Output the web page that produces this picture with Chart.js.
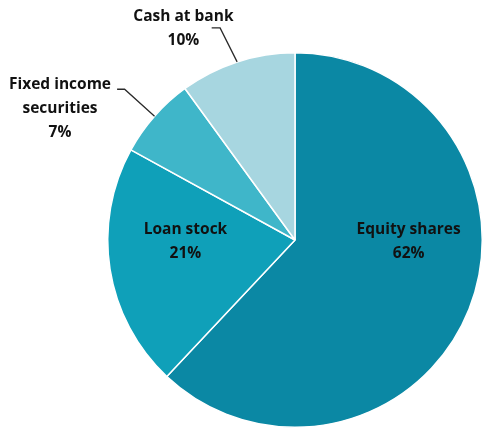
<!DOCTYPE html>
<html>
<head>
<meta charset="utf-8">
<script src="https://cdn.jsdelivr.net/npm/chart.js@4.4.0/dist/chart.umd.min.js"></script>
<style>
  html, body { margin: 0; padding: 0; background: #fff; }
  #wrap { width: 483px; height: 429px; position: relative; }
</style>
</head>
<body>
<div id="wrap"><canvas id="pie"></canvas></div>
<script>
// --- DATA ---
const categories = ['Equity shares', 'Loan stock', 'Fixed income securities', 'Cash at bank'];
const shares = [62, 21, 7, 10];
const sliceColors = ['#0b88a4', '#0fa0b9', '#3fb6c9', '#a7d6e0'];

// label text lines, as shown on the picture
const labelLines = [
    ['Equity shares'],
    ['Loan stock'],
    ['Fixed income', 'securities'],
    ['Cash at bank']
];

// --- LABEL PLACEMENT (fractions of radius, relative to pie centre) ---
const labelPos = [
    { fx: 0.607, fy: 0.01 },
    { fx: -0.585, fy: 0.01 },
    { fx: -1.255, fy: -0.70, leader: true, elbow: { fx: -0.91, fy: -0.805 }, tip: { fx: -0.95, fy: -0.805 } },
    { fx: -0.596, fy: -1.13, leader: true, elbow: { fx: -0.40, fy: -1.133 }, tip: { fx: -0.445, fy: -1.133 } }
];

const labelPlugin = {
    id: 'sliceLabels',
    afterDatasetsDraw(chart) {
        const ctx = chart.ctx;
        const meta = chart.getDatasetMeta(0);
        ctx.save();
        ctx.font = 'bold 15.5px "Open Sans"';
        ctx.fillStyle = '#111';
        ctx.textAlign = 'center';
        ctx.textBaseline = 'middle';
        const lh = 24;

        meta.data.forEach((arc, i) => {
            const cx = arc.x, cy = arc.y, r = arc.outerRadius;
            const p = labelPos[i];
            const lines = labelLines[i].concat([shares[i] + '%']);
            const x = cx + p.fx * r;
            const y = cy + p.fy * r;
            const top = y - (lines.length - 1) * lh / 2;
            lines.forEach((t, k) => ctx.fillText(t, x, top + k * lh));

            if (p.leader) {
                // leader line from the slice edge at its mid angle
                const mid = (arc.startAngle + arc.endAngle) / 2;
                const ex = cx + Math.cos(mid) * r;
                const ey = cy + Math.sin(mid) * r;
                ctx.beginPath();
                ctx.strokeStyle = '#2a2a2a';
                ctx.lineWidth = 1.3;
                ctx.moveTo(ex, ey);
                ctx.lineTo(cx + p.elbow.fx * r, cy + p.elbow.fy * r);
                ctx.lineTo(cx + p.tip.fx * r, cy + p.tip.fy * r);
                ctx.stroke();
            }
        });
        ctx.restore();
    }
};

new Chart(document.getElementById('pie'), {
    type: 'pie',
    data: {
        labels: categories,
        datasets: [{
            data: shares,
            backgroundColor: sliceColors,
            borderColor: '#ffffff',
            borderWidth: 1.5
        }]
    },
    options: {
        responsive: true,
        maintainAspectRatio: false,
        animation: false,
        devicePixelRatio: 1,
        layout: { padding: { left: 107, right: 0, top: 52, bottom: 1 } },
        plugins: {
            legend: { display: false },
            tooltip: { enabled: false }
        }
    },
    plugins: [labelPlugin]
});
</script>
</body>
</html>
